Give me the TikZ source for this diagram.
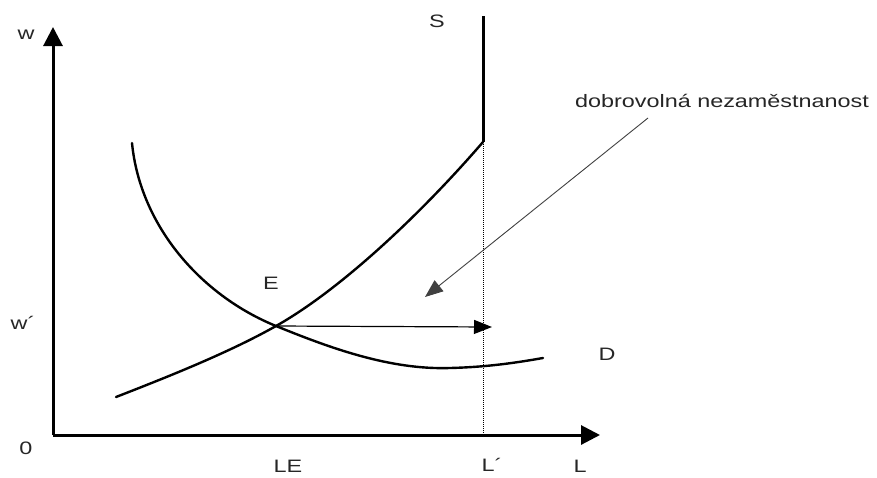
\documentclass[tikz,border=0pt]{standalone}
\usepackage{fontspec}
\setmainfont[FakeStretch=1.3]{Liberation Sans}
\usetikzlibrary{arrows.meta}
\begin{document}
\begin{tikzpicture}[x=1pt,y=-1pt,
  lbl/.style={font=\fontsize{18}{21}\selectfont, inner sep=0pt, text=black!85},
  axis/.style={line width=3pt, -{Triangle[length=19pt,width=19pt]}},
  curve/.style={line width=2.4pt, line cap=round},
  arr/.style={line width=1.2pt, -{Triangle[length=18pt,width=14pt]}}]
\useasboundingbox (0,0) rectangle (877,477);
\coordinate (O) at (53,435);
\coordinate (ytop) at (53,27);
\coordinate (xend) at (600,435);
\coordinate (E) at (276,326);
\coordinate (Stop) at (483,16);
\coordinate (Sk) at (483,142);
\coordinate (Lp) at (483,435);
\coordinate (Hend) at (492,327);
\coordinate (Pstart) at (648,118);
\coordinate (Pend) at (425,297);
% axes
\draw[axis] (O) -- (ytop);
\draw[axis] (O) -- (xend);
% dotted line
\draw[line width=1pt, densely dotted] (Sk) -- (Lp);
% supply
\draw[curve] (116,397) .. controls (170,376) and (230,352) .. (E)
  .. controls (340,290) and (420,215) .. (Sk);
\draw[line width=3pt] (Sk) -- (Stop);
% demand
\draw[curve] (132,143) .. controls (140,225) and (200,295) .. (E)
  .. controls (330,348) and (390,370) .. (450,368)
  .. controls (490,367) and (520,362) .. (543,358);
% arrows
\draw[arr] (E) -- (Hend);
\draw[arr, line width=0.9pt, draw=black!75] (Pstart) -- (Pend);
% labels
\node[lbl] (lw) at (26,35) {w};
\node[lbl] (lwp) at (23,323) {w´};
\node[lbl] (l0) at (26,448) {0};
\node[lbl] (lLE) at (288,466) {LE};
\node[lbl] (lLp) at (492,465) {L´};
\node[lbl] (lL) at (580,466) {L};
\node[lbl] (lS) at (437,21) {S};
\node[lbl] (lE) at (271,283) {E};
\node[lbl] (lD) at (607,354) {D};
\node[lbl] (ldn) at (722,101) {dobrovolná nezaměstnanost};
\end{tikzpicture}
\end{document}
